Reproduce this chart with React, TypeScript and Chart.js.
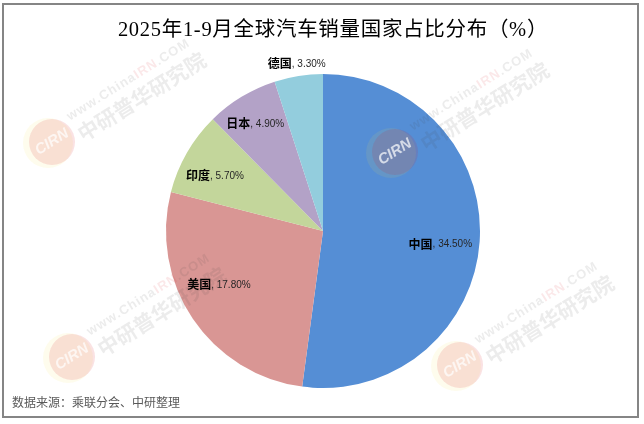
import React, { useRef, useEffect } from "react";
import Chart from "chart.js/auto";

const titleText = "2025年1-9月全球汽车销量国家占比分布（%）";
const sourceText = "数据来源：乘联分会、中研整理";
const countries = ["中国", "美国", "印度", "日本", "德国"];
const shares = [34.5, 17.8, 5.7, 4.9, 3.3];
const sliceColors = ["#558ed5", "#d99694", "#c3d69b", "#b3a2c7", "#93cddd"];
// label nudge from each slice's midpoint
const labelNudges = [
  [39, 8],
  [-39, 10],
  [-40, -16],
  [-27, -40],
  [-14, -90],
];
const watermarkSpots = [
  [52, 142],
  [395, 152],
  [72, 357],
  [460, 365],
];

const SANS = '"Noto Sans CJK SC", "Noto Sans", sans-serif';

const drawWatermark = (ctx: CanvasRenderingContext2D, x: number, y: number) => {
  ctx.save();
  ctx.translate(x, y);
  // yellow halo + logo disc
  ctx.globalAlpha = 0.1;
  ctx.fillStyle = "#f5e04a";
  ctx.beginPath();
  ctx.arc(-4, 1, 25, 0, Math.PI * 2);
  ctx.fill();
  ctx.globalAlpha = 0.13;
  ctx.fillStyle = "#d8202a";
  ctx.beginPath();
  ctx.arc(0, 0, 23, 0, Math.PI * 2);
  ctx.fill();
  ctx.rotate((-32 * Math.PI) / 180);
  ctx.textBaseline = "middle";
  ctx.textAlign = "center";
  ctx.globalAlpha = 0.7;
  ctx.fillStyle = "#ffffff";
  ctx.font = 'italic bold 15px "Liberation Sans"';
  ctx.fillText("CIRN", 0, 0);

  ctx.globalAlpha = 0.1;
  ctx.font = 'bold 13px "Liberation Sans"';
  ctx.textAlign = "left";
  const pieces: [string, string][] = [
    ["www.China", "#404040"],
    ["IRN", "#d8202a"],
    [".COM", "#404040"],
  ];
  const total = pieces.reduce((w, p) => w + ctx.measureText(p[0]).width, 0) + 15 * 1;
  let px = 97 - total / 2;
  pieces.forEach(([t, c]) => {
    ctx.fillStyle = c;
    for (const ch of t) {
      ctx.fillText(ch, px, -12);
      px += ctx.measureText(ch).width + 1;
    }
  });
  ctx.fillStyle = "#404040";
  ctx.font = `bold 21px ${SANS}`;
  ctx.textAlign = "center";
  ctx.fillText("中研普华研究院", 100, 9);
  ctx.restore();
};

const decorPlugin = {
  id: "decor",
  afterDraw(chart: any) {
    const ctx: CanvasRenderingContext2D = chart.ctx;
    ctx.save();

    // frame
    ctx.strokeStyle = "#858585";
    ctx.lineWidth = 2;
    ctx.strokeRect(3, 4, 635, 413);

    // title
    ctx.fillStyle = "#000000";
    ctx.font = '20.5px "Liberation Serif", "Noto Sans CJK SC", serif';
    (ctx as any).letterSpacing = "0.7px";
    ctx.textAlign = "center";
    ctx.textBaseline = "middle";
    ctx.fillText(titleText, 333, 31);
    (ctx as any).letterSpacing = "0px";

    // source
    ctx.fillStyle = "#595959";
    ctx.font = `12px ${SANS}`;
    ctx.textAlign = "left";
    ctx.fillText(sourceText, 12, 402);

    // data labels
    const arcs = chart.getDatasetMeta(0).data;
    arcs.forEach((arc: any, i: number) => {
      const pos = arc.tooltipPosition();
      const cx = pos.x + labelNudges[i][0];
      const cy = pos.y + labelNudges[i][1];
      const name = countries[i];
      const value = `, ${shares[i].toFixed(2)}%`;
      ctx.font = `bold 12px ${SANS}`;
      const nameW = ctx.measureText(name).width;
      ctx.font = '10px "Liberation Sans", sans-serif';
      const valueW = ctx.measureText(value).width;
      const left = cx - (nameW + valueW) / 2;
      ctx.fillStyle = "#000000";
      ctx.textAlign = "left";
      ctx.font = `bold 12px ${SANS}`;
      ctx.fillText(name, left, cy);
      ctx.fillStyle = "#262626";
      ctx.font = '10px "Liberation Sans", sans-serif';
      ctx.fillText(value, left + nameW, cy + 0.5);
    });

    watermarkSpots.forEach(([x, y]) => drawWatermark(ctx, x, y));
    ctx.restore();
  },
};

const App: React.FC = () => {
  const chartRef = useRef<HTMLCanvasElement | null>(null);

  useEffect(() => {
    if (!chartRef.current) return;
    const myChart = new Chart(chartRef.current.getContext("2d")!, {
      type: "pie",
      data: {
        labels: countries,
        datasets: [
          {
            data: shares,
            backgroundColor: sliceColors,
            borderWidth: 0,
          },
        ],
      },
      options: {
        animation: false,
        responsive: false,
        layout: { padding: { top: 74, bottom: 36, left: 166, right: 164 } },
        plugins: {
          legend: { display: false },
          tooltip: { enabled: false },
        },
      },
      plugins: [decorPlugin],
    } as any);

    return () => {
      myChart.destroy();
    };
  }, []);

  return (
    <div style={{ position: "absolute", left: 0, top: 0, width: 644, height: 424, background: "#fff" }}>
      <canvas ref={chartRef} width={644} height={424}></canvas>
    </div>
  );
};

export default App;
